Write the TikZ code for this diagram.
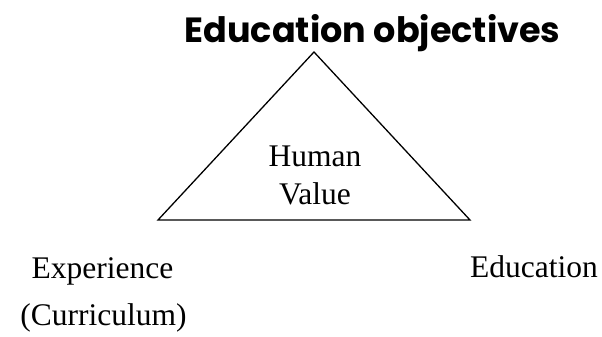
\documentclass[tikz,border=0pt]{standalone}
\usepackage{fontspec}
\setmainfont{Liberation Serif}
\newfontfamily\titlefont{Poppins}

\begin{document}
\begin{tikzpicture}[
    x=1pt, y=-1pt,
    every node/.style={align=center, inner sep=0pt},
    label/.style={font=\fontsize{31.5}{38}\selectfont},
    heading/.style={font=\titlefont\bfseries\fontsize{35}{40}\selectfont},
    edge/.style={draw, line width=1.3pt, line join=miter}
]
\useasboundingbox (0,0) rectangle (602,337);

% Corners
\coordinate (top) at (314, 52);
\coordinate (left) at (158, 220);
\coordinate (right) at (470, 220);

% Nodes
\node[heading, anchor=base] (title) at (372.5, 43) {Education objectives};
\node[label] (value) at (315, 175) {Human\\Value};
\node[label, anchor=base] (exp) at (102.5, 278) {Experience};
\node[label, anchor=base] (cur) at (103.5, 325) {(Curriculum)};
\node[label, anchor=base] (edu) at (534, 277) {Education};

% Triangle
\draw[edge] (top) -- (left) -- (right) -- cycle;

\end{tikzpicture}
\end{document}
